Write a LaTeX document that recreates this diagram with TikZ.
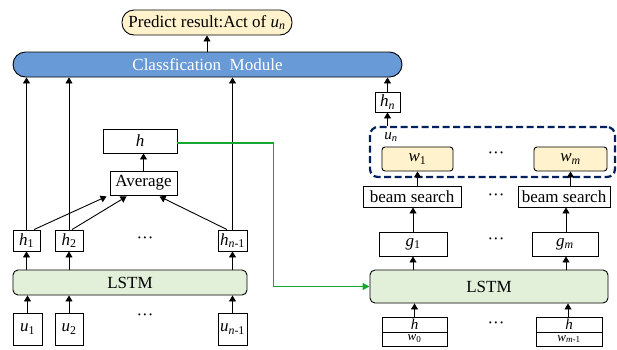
\documentclass[tikz,border=0pt]{standalone}
\usepackage{fontspec}
\setmainfont{Liberation Serif}
\usetikzlibrary{arrows.meta}
\definecolor{predfill}{RGB}{255,242,204}
\definecolor{clsfill}{RGB}{104,154,216}
\definecolor{lstmfill}{RGB}{226,240,217}
\definecolor{dashblue}{RGB}{0,32,96}
\definecolor{lnkgreen}{RGB}{20,165,50}
\newcommand\itx[2]{\textit{#1}\textsubscript{#2}}
\begin{document}
\begin{tikzpicture}[x=1pt,y=-1pt,font=\fontsize{17}{20}\selectfont,
  box/.style={draw,line width=0.9pt,inner sep=0pt,fill=white},
  wbox/.style={box,fill=predfill,rounded corners=3pt},
  lstmbox/.style={box,fill=lstmfill,rounded corners=5pt},
  smallt/.style={font=\fontsize{15}{16}\selectfont},
  tinyt/.style={font=\fontsize{13}{14}\selectfont},
  arr/.style={-{Triangle[length=6pt,width=7pt]},line width=0.9pt},
  garr/.style={-{Triangle[length=7pt,width=7pt]},line width=1.3pt,draw=lnkgreen},
  dotsn/.style={inner sep=0pt}]
\useasboundingbox (0,0) rectangle (617,349);
% top
\node[box,fill=predfill,rounded corners=12pt,minimum width=170pt,minimum height=25pt] (pred) at (207,22.5) {Predict result:Act of \itx{u}{\textit{n}}};
\node[box,fill=clsfill,rounded corners=12.5pt,minimum width=389pt,minimum height=25pt,text=white] (cls) at (207.5,64.5) {Classfication\ \ Module};
\draw[arr] (cls.north -| pred.south) -- (pred.south);
% right side
\node[box,minimum width=25pt,minimum height=20pt] (hn) at (387.5,102) {\itx{h}{\textit{n}}};
\node[draw=dashblue,dash pattern=on 7pt off 3.5pt,line width=2.2pt,rounded corners=8pt,minimum width=245pt,minimum height=50pt,inner sep=0pt] (un) at (492.5,152) {};
\node[inner sep=0pt,smallt] (unlab) at (391,137) {\itx{u}{\textit{n}}};
\node[wbox,minimum width=71pt,minimum height=24pt] (w1) at (417.5,159) {\itx{w}{1}};
\node[wbox,minimum width=73pt,minimum height=24pt] (wm) at (570.5,159) {\itx{w}{\textit{m}}};
\node[dotsn] (d1) at (496,155) {···};
\node[box,minimum width=98pt,minimum height=21pt] (bs1) at (412,196.5) {beam search};
\node[box,minimum width=92pt,minimum height=21pt] (bs2) at (564,196.5) {beam search};
\node[dotsn] (d2) at (496,197) {···};
\node[box,minimum width=68pt,minimum height=24pt] (g1) at (413,244) {\itx{g}{1}};
\node[box,minimum width=66pt,minimum height=24pt] (gm) at (565,244) {\itx{g}{\textit{m}}};
\node[dotsn] (d3) at (496,241) {···};
\node[lstmbox,minimum width=238pt,minimum height=33pt] (lstmR) at (489,286.5) {LSTM};
\node[box,smallt,minimum width=65pt,minimum height=15pt] (hw1h) at (414.5,324.5) {\raisebox{1pt}{\textit{h}}};
\node[box,tinyt,minimum width=65pt,minimum height=14pt] (hw1w) at (414.5,339) {\itx{w}{0}};
\node[box,smallt,minimum width=66pt,minimum height=15pt] (hw2h) at (569,324.5) {\raisebox{1pt}{\textit{h}}};
\node[box,tinyt,minimum width=66pt,minimum height=14pt] (hw2w) at (569,339) {\itx{w}{\textit{m}-1}};
\node[dotsn] (d4) at (496,325) {···};
\draw[arr] (hn.north) -- (hn.north |- cls.south);
\draw[arr] (hn.south |- un.north) -- (hn.south);
\draw[arr] (bs1.north -| w1.south) -- (w1.south);
\draw[arr] (bs2.north -| wm.south) -- (wm.south);
\draw[arr] (g1.north) -- (g1.north |- bs1.south);
\draw[arr] ([xshift=1pt]gm.north) -- ([xshift=1pt]gm.north |- bs2.south);
\draw[arr] (lstmR.north -| g1.south) -- (g1.south);
\draw[arr] ([xshift=1pt]lstmR.north -| gm.south) -- ([xshift=1pt]gm.south);
\draw[arr] (hw1h.north) -- (hw1h.north |- lstmR.south);
\draw[arr] ([xshift=-1pt]hw2h.north) -- ([xshift=-1pt]hw2h.north |- lstmR.south);
% left side
\node[box,minimum width=74pt,minimum height=24pt] (h) at (140,141) {\textit{h}};
\node[box,minimum width=67pt,minimum height=24pt] (avg) at (143.5,183) {Average};
\node[box,minimum width=27pt,minimum height=21pt] (h1) at (26.5,240.5) {\itx{h}{1}};
\node[box,minimum width=28pt,minimum height=21pt] (h2) at (69,240.5) {\itx{h}{2}};
\node[box,minimum width=29pt,minimum height=21pt] (hn1) at (232.5,240.5) {\itx{h}{\textit{n}-1}};
\node[dotsn] (d5) at (145,240) {···};
\node[lstmbox,minimum width=234pt,minimum height=25pt] (lstmL) at (130,282.5) {LSTM};
\node[box,minimum width=29pt,minimum height=32pt] (u1) at (27.5,329) {\itx{u}{1}};
\node[box,minimum width=28pt,minimum height=32pt] (u2) at (69,329) {\itx{u}{2}};
\node[box,minimum width=29pt,minimum height=32pt] (un1) at (232.5,329) {\itx{u}{\textit{n}-1}};
\node[dotsn] (d6) at (145,317) {···};
\foreach \b/\u in {h1/u1,h2/u2,hn1/un1}{
  \draw[arr] (\b.north) -- (\b.north |- cls.south);
  \draw[arr] (lstmL.north -| \b.south) -- (\b.south);
  \draw[arr] (\u.north) -- (\u.north |- lstmL.south);
}
\draw[arr] (avg.north) -- (avg.north |- h.south);
\draw[arr] ([xshift=7.5pt]h1.north) -- ([xshift=-3pt,yshift=-1pt]avg.south west);
\draw[arr] ([xshift=3pt]h2.north) -- ([xshift=17pt,yshift=-1pt]avg.south west);
\draw[arr] ([xshift=-5.5pt]hn1.north) -- ([xshift=50pt,yshift=-1pt]avg.south west);
\draw[garr] ([yshift=-2pt]h.east) -- ++(96,0) |- (lstmR.west);
\end{tikzpicture}
\end{document}
